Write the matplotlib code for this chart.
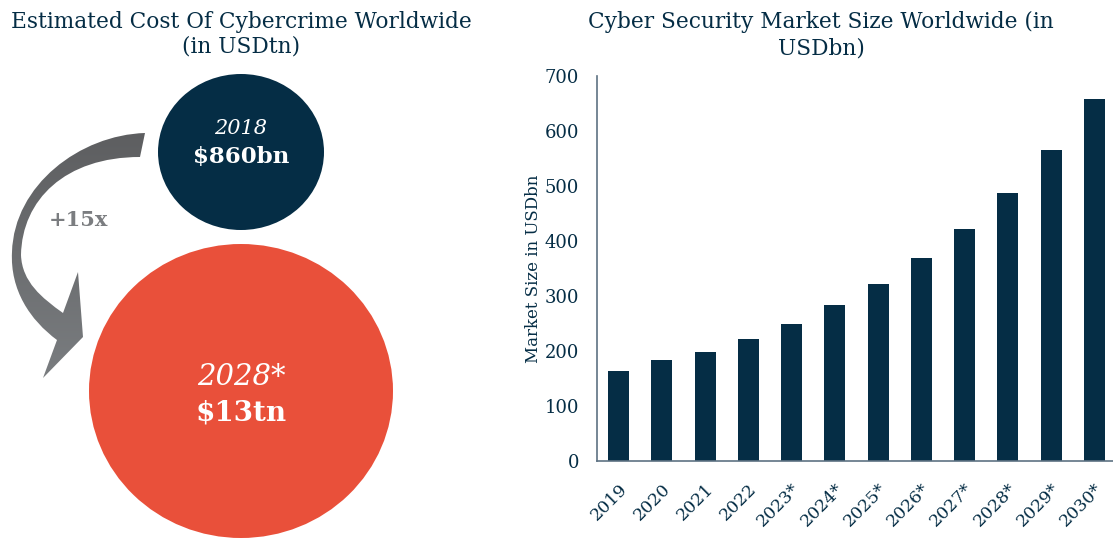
import numpy as np
import matplotlib
matplotlib.use("Agg")
import matplotlib.pyplot as plt
from matplotlib.patches import Ellipse, PathPatch
from matplotlib.path import Path

# data
years = ['2019', '2020', '2021', '2022', '2023*', '2024*', '2025*',
         '2026*', '2027*', '2028*', '2029*', '2030*']
market_size = [164, 184, 198, 222, 250, 284, 322, 369, 422, 488, 566, 658]

cost_labels = ['2018', '2028*']
cost_values = ['$860bn', '$13tn']
growth_label = '+15x'

navy = '#052d45'
orange = '#e9503a'
grey_txt = '#7b7d80'
serif = 'DejaVu Serif'

fig = plt.figure(figsize=(11.13, 5.38), dpi=100)

## left panel, drawn in pixel units (y down)
ax0 = fig.add_axes([0, 0, 500 / 1113, 1])
ax0.set_xlim(0, 500)
ax0.set_ylim(538, 0)
ax0.axis('off')

ax0.text(241, 22, 'Estimated Cost Of Cybercrime Worldwide', ha='center', va='center',
         fontsize=15.6, color=navy, family=serif)
ax0.text(241, 47, '(in USDtn)', ha='center', va='center',
         fontsize=15.6, color=navy, family=serif)

ax0.add_patch(Ellipse((241, 152), 166, 156, color=navy, lw=0))
ax0.add_patch(Ellipse((241, 391), 304, 294, color=orange, lw=0))

ax0.text(241, 129, cost_labels[0], ha='center', va='center', fontsize=15,
         style='italic', color='white', family=serif)
ax0.text(241, 157, cost_values[0], ha='center', va='center', fontsize=16.5,
         weight='bold', color='white', family=serif)
ax0.text(241, 377, cost_labels[1], ha='center', va='center', fontsize=21,
         style='italic', color='white', family=serif)
ax0.text(241, 413, cost_values[1], ha='center', va='center', fontsize=20,
         weight='bold', color='white', family=serif)

# curved grey arrow
verts = [(145, 133),
         (80, 135), (14, 185), (12, 252),
         (10, 290), (30, 320), (57, 340),
         (43, 378), (83, 337), (78, 272), (63, 313),
         (42, 298), (22, 282), (21, 255),
         (22, 200), (65, 157), (140, 157),
         (145, 133)]
codes = [Path.MOVETO,
         Path.CURVE4, Path.CURVE4, Path.CURVE4,
         Path.CURVE4, Path.CURVE4, Path.CURVE4,
         Path.LINETO, Path.LINETO, Path.LINETO, Path.LINETO,
         Path.CURVE4, Path.CURVE4, Path.CURVE4,
         Path.CURVE4, Path.CURVE4, Path.CURVE4,
         Path.CLOSEPOLY]
arrow = PathPatch(Path(verts, codes), facecolor='none', edgecolor='none')
ax0.add_patch(arrow)
grad = np.linspace(0, 1, 256).reshape(-1, 1)
cmap = matplotlib.colors.LinearSegmentedColormap.from_list('g', ['#5d5e60', '#7a7d80'])
im = ax0.imshow(grad, extent=(0, 160, 380, 130), cmap=cmap, aspect='auto', zorder=1)
im.set_clip_path(arrow)
ax0.set_xlim(0, 500)
ax0.set_ylim(538, 0)

ax0.text(78, 220, growth_label, ha='center', va='center', fontsize=15,
         weight='bold', color=grey_txt, family=serif)

## right panel: bar chart
ax = fig.add_axes([597 / 1113, 1 - 461 / 538, 1 - 597 / 1113, (461 - 76) / 538])
ind = np.arange(len(years))
ax.bar(ind, market_size, 0.49, color=navy)
ax.set_xlim(-0.5, 11.43)
ax.set_ylim(0, 700)
ax.set_yticks(np.arange(0, 701, 100))
ax.set_xticks(ind)
ax.set_xticklabels(years, rotation=45, ha='right', rotation_mode='anchor',
                   fontsize=12.5, color=navy, family=serif)
for lbl in ax.get_yticklabels():
    lbl.set_fontsize(13)
    lbl.set_color(navy)
    lbl.set_family(serif)
ax.tick_params(axis='both', length=0)
ax.tick_params(axis='y', pad=13)
ax.tick_params(axis='x', pad=14)
for s in ['top', 'right']:
    ax.spines[s].set_visible(False)
for s in ['left', 'bottom']:
    ax.spines[s].set_color('#5d7283')
    ax.spines[s].set_linewidth(1.2)
ax.set_ylabel('Market Size in USDbn', fontsize=12, color=navy, family=serif)
ax.yaxis.set_label_coords(-0.107, 0.5)

fig.text(821 / 1113, 1 - 22 / 538, 'Cyber Security Market Size Worldwide (in',
         ha='center', va='center', fontsize=15.6, color=navy, family=serif)
fig.text(821 / 1113, 1 - 48 / 538, 'USDbn)',
         ha='center', va='center', fontsize=15.6, color=navy, family=serif)

fig.savefig('out.png', dpi=100)
